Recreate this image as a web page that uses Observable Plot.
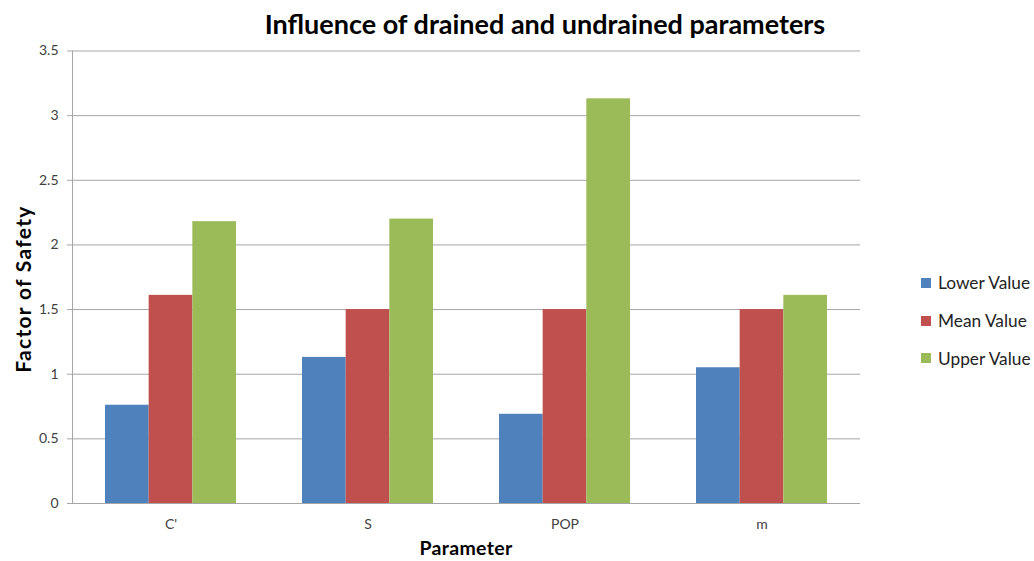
<!DOCTYPE html>
<html><head><meta charset="utf-8">
<script src="https://cdn.jsdelivr.net/npm/d3@7"></script>
<script src="https://cdn.jsdelivr.net/npm/@observablehq/plot@0.6"></script>
<style>
body{margin:0;background:#fff;font-family:Lato,"Open Sans",sans-serif;}
#wrap{position:relative;width:1034px;height:561px;overflow:hidden;background:#fff;}
#title{position:absolute;left:0;width:1090px;top:9px;text-align:center;font-weight:bold;font-size:27px;color:#000;line-height:30px;}
#chart{position:absolute;left:0;top:40px;}
#ylab{position:absolute;left:22px;top:289px;transform:translate(-50%,-50%) rotate(-90deg);font-weight:bold;font-size:21px;letter-spacing:1.3px;line-height:1;white-space:nowrap;color:#000;}
#xlab{position:absolute;left:466px;top:548px;transform:translate(-50%,-50%);font-weight:bold;font-size:19.5px;letter-spacing:0.3px;line-height:18px;white-space:nowrap;color:#000;}
#legend{position:absolute;left:921px;top:264px;}
.li{display:flex;align-items:center;height:37.7px;font-size:17.3px;color:#222;}
.sw{width:10px;height:10px;margin-right:7px;flex:none;}
</style></head>
<body>
<div id="wrap">
  <div id="title">Influence of drained and undrained parameters</div>
  <div id="chart"></div>
  <div id="ylab">Factor of Safety</div>
  <div id="xlab">Parameter</div>
  <div id="legend"></div>
</div>
<script>
const categories = ["C'", "S", "POP", "m"];
const seriesNames = ["Lower Value", "Mean Value", "Upper Value"];
const lowerValues = [0.76, 1.13, 0.69, 1.05];
const meanValues = [1.61, 1.50, 1.50, 1.50];
const upperValues = [2.18, 2.20, 3.13, 1.61];
const yTicks = [0, 0.5, 1, 1.5, 2, 2.5, 3, 3.5];
const seriesColors = ["#4F81BD", "#C0504D", "#9BBB59"];

const seriesValues = [lowerValues, meanValues, upperValues];
const groupWidth = 0.665;
const barW = groupWidth / seriesNames.length;
const data = categories.flatMap((c, i) => seriesNames.map((s, j) => ({
  ci: i, si: j, category: c, series: s, value: seriesValues[j][i]
})));

const chart = Plot.plot({
  width: 1034, height: 521,
  marginLeft: 72, marginRight: 174, marginTop: 10.5, marginBottom: 58,
  style: {fontFamily: "Lato, 'Open Sans', sans-serif", fontSize: "14px", background: "#fff"},
  x: {domain: [-0.5, categories.length - 0.5], axis: null},
  y: {domain: [0, 3.5], axis: null},
  color: {domain: seriesNames, range: seriesColors},
  marks: [
    Plot.ruleY(yTicks.filter(t => t > 0), {stroke: "#a6a6a6", strokeWidth: 1}),
    Plot.rectY(data, {
      x1: d => d.ci - groupWidth / 2 + d.si * barW,
      x2: d => d.ci - groupWidth / 2 + (d.si + 1) * barW,
      y1: 0, y2: "value", fill: "series"
    }),
    Plot.ruleY([0], {stroke: "#a6a6a6"}),
    Plot.ruleX([-0.5], {stroke: "#a6a6a6"}),
    Plot.axisY({ticks: yTicks, tickFormat: d => String(d), tickSize: 5, tickPadding: 9,
      stroke: "#a6a6a6", fill: "#404040", label: null}),
    Plot.axisX({ticks: categories.map((c, i) => i), tickFormat: i => categories[i],
      tickSize: 0, tickPadding: 16, fill: "#404040", label: null})
  ]
});
document.getElementById("chart").appendChild(chart);

const leg = document.getElementById("legend");
seriesNames.forEach((s, j) => {
  const row = document.createElement("div");
  row.className = "li";
  row.innerHTML = `<span class="sw" style="background:${seriesColors[j]}"></span><span>${s}</span>`;
  leg.appendChild(row);
});
</script>
</body></html>
